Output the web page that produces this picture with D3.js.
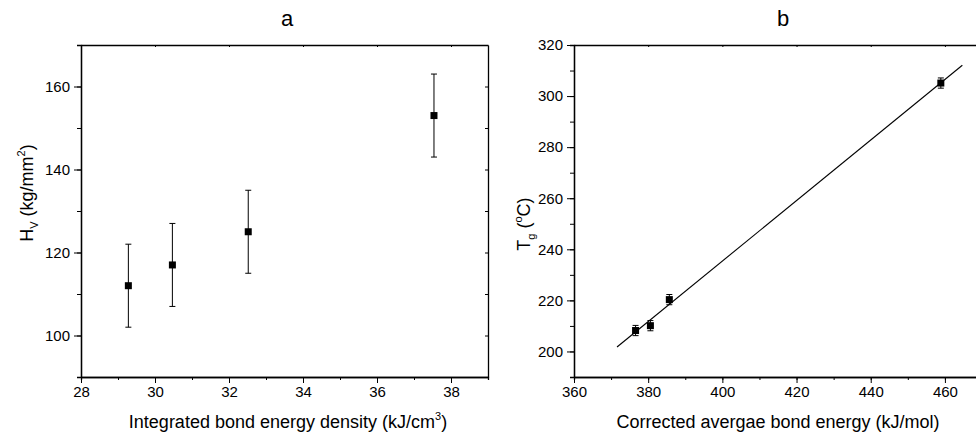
<!DOCTYPE html>
<html>
<head>
<meta charset="utf-8">
<script src="https://cdn.jsdelivr.net/npm/d3@7"></script>
<style>
  body { margin: 0; background: #fff; }
  svg text { font-family: "Liberation Sans", Arial, sans-serif; fill: #000; }
</style>
</head>
<body>
<div id="chart"></div>
<script>
// panel a data
var densityX = [29.28, 30.47, 32.52, 37.54]
var hardness = [112, 117, 125, 153]
var hardnessErr = [10, 10, 10, 10]
var aTicksX = [28, 30, 32, 34, 36, 38]
var aTicksY = [100, 120, 140, 160]

// panel b data
var bondEnergy = [376.6, 380.6, 385.7, 458.9]
var tg = [208.2, 210.1, 220.3, 305.1]
var tgErr = [2, 2, 2, 2]
var fitRange = [371.6, 464.7]
var bTicksX = [360, 380, 400, 420, 440, 460]
var bTicksY = [200, 220, 240, 260, 280, 300, 320]

var width = 976, height = 442

var svg = d3.select("#chart")
  .append("svg")
  .attr("width", width)
  .attr("height", height)

function panel(opt) {
  var xScale = d3.scaleLinear().domain(opt.xDomain).range(opt.xRange)
  var yScale = d3.scaleLinear().domain(opt.yDomain).range(opt.yRange)
  var g = svg.append("g")

  // minor ticks first, then major with labels
  var xMinor = d3.axisBottom(xScale).tickValues(d3.range(opt.xDomain[0], opt.xDomain[1] + 0.001, opt.xMinorStep))
    .tickSize(3).tickFormat('')
  var yMinor = d3.axisLeft(yScale).tickValues(d3.range(opt.yDomain[0] + 10, opt.yDomain[1], opt.yMinorStep))
    .tickSize(4).tickFormat('')
  var xAxis = d3.axisBottom(xScale).tickValues(opt.xTicks).tickSize(6).tickPadding(3).tickSizeOuter(0)
  var yAxis = d3.axisLeft(yScale).tickValues(opt.yTicks).tickSize(7).tickPadding(4).tickSizeOuter(0)

  var y0 = opt.yRange[0], x0 = opt.xRange[0]

  g.append("g").attr("transform", `translate(0,${y0})`).call(xMinor)
  g.append("g").attr("transform", `translate(${x0},0)`).call(yMinor)
  g.append("g").attr("class", "x-axis").attr("transform", `translate(0,${y0})`).call(xAxis)
    .selectAll("text").attr("font-size", "15px")
  g.append("g").attr("class", "y-axis").attr("transform", `translate(${x0},0)`).call(yAxis)
    .selectAll("text").attr("font-size", "15px")

  // mirrored top / right frame with small inward ticks
  var xTop = d3.axisBottom(xScale).tickValues(d3.range(opt.xDomain[0], opt.xDomain[1] + 0.001, opt.xMinorStep * 2))
    .tickSize(2).tickFormat('').tickSizeOuter(0)
  g.append("g").attr("transform", `translate(0,${opt.yRange[1]})`).call(xTop)
  if (opt.rightFrame) {
    var yRight = d3.axisLeft(yScale).tickValues(d3.range(opt.yDomain[0], opt.yDomain[1], opt.yMinorStep))
      .tickSize(3).tickFormat('').tickSizeOuter(0)
    g.append("g").attr("transform", `translate(${opt.xRange[1]},0)`).call(yRight)
  }
  g.selectAll(".domain, line").attr("stroke", "#000")
  g.selectAll(".domain").attr("stroke-width", 1.3)

  return { g: g, x: xScale, y: yScale }
}

function errorMarks(p, xs, ys, errs) {
  var pts = xs.map((x, i) => ({ x: x, y: ys[i], e: errs[i] }))
  var capW = 3
  var eg = p.g.append("g").attr("stroke", "#000").attr("stroke-width", 1)
  eg.selectAll("line.bar").data(pts).enter().append("line")
    .attr("x1", d => p.x(d.x)).attr("x2", d => p.x(d.x))
    .attr("y1", d => p.y(d.y - d.e)).attr("y2", d => p.y(d.y + d.e))
  eg.selectAll("line.top").data(pts).enter().append("line")
    .attr("x1", d => p.x(d.x) - capW).attr("x2", d => p.x(d.x) + capW)
    .attr("y1", d => p.y(d.y + d.e)).attr("y2", d => p.y(d.y + d.e))
  eg.selectAll("line.bot").data(pts).enter().append("line")
    .attr("x1", d => p.x(d.x) - capW).attr("x2", d => p.x(d.x) + capW)
    .attr("y1", d => p.y(d.y - d.e)).attr("y2", d => p.y(d.y - d.e))
  p.g.selectAll("rect.pt").data(pts).enter().append("rect")
    .attr("class", "pt")
    .attr("x", d => p.x(d.x) - 3.5)
    .attr("y", d => p.y(d.y) - 3.5)
    .attr("width", 7).attr("height", 7)
    .attr("fill", "#000")
}

// Panel a
var pa = panel({
  xDomain: [28, 39], xRange: [81, 488], xTicks: aTicksX, xMinorStep: 1,
  yDomain: [90, 170], yRange: [377, 45], yTicks: aTicksY, yMinorStep: 10,
  rightFrame: true
})
errorMarks(pa, densityX, hardness, hardnessErr)

// Panel b
var pb = panel({
  xDomain: [360, 470], xRange: [574, 982], xTicks: bTicksX, xMinorStep: 10,
  yDomain: [190, 320], yRange: [377, 45], yTicks: bTicksY, yMinorStep: 10,
  rightFrame: true
})

// least squares fit line through panel b points
var mx = d3.mean(bondEnergy), my = d3.mean(tg)
var sxy = d3.sum(bondEnergy, (x, i) => (x - mx) * (tg[i] - my))
var sxx = d3.sum(bondEnergy, x => (x - mx) * (x - mx))
var slope = sxy / sxx, intercept = my - slope * mx
pb.g.append("path")
  .datum(fitRange)
  .attr("d", d3.line().x(d => pb.x(d)).y(d => pb.y(intercept + slope * d)))
  .attr("stroke", "#000").attr("stroke-width", 1.1).attr("fill", "none")
errorMarks(pb, bondEnergy, tg, tgErr)

// titles
svg.append("text").attr("x", 287).attr("y", 26).attr("text-anchor", "middle")
  .attr("font-size", "22px").text("a")
svg.append("text").attr("x", 783).attr("y", 26).attr("text-anchor", "middle")
  .attr("font-size", "22px").text("b")

// axis labels
var xla = svg.append("text").attr("x", 288).attr("y", 428).attr("text-anchor", "middle")
  .attr("font-size", "18px")
xla.append("tspan").text("Integrated bond energy density (kJ/cm")
xla.append("tspan").attr("font-size", "11px").attr("dy", -8).text("3")
xla.append("tspan").attr("dy", 8).text(")")

svg.append("text").attr("x", 778).attr("y", 428).attr("text-anchor", "middle")
  .attr("font-size", "18px").text("Corrected avergae bond energy (kJ/mol)")

var yla = svg.append("text").attr("transform", "translate(33,193) rotate(-90)")
  .attr("text-anchor", "middle").attr("font-size", "18px")
yla.append("tspan").text("H")
yla.append("tspan").attr("font-size", "11px").attr("dy", 5).text("V")
yla.append("tspan").attr("dy", -5).text(" (kg/mm")
yla.append("tspan").attr("font-size", "11px").attr("dy", -8).text("2")
yla.append("tspan").attr("dy", 8).text(")")

var ylb = svg.append("text").attr("transform", "translate(530,224) rotate(-90)")
  .attr("text-anchor", "middle").attr("font-size", "18px")
ylb.append("tspan").text("T")
ylb.append("tspan").attr("font-size", "11px").attr("dy", 5).text("g")
ylb.append("tspan").attr("dy", -5).text(" (")
ylb.append("tspan").attr("font-size", "11px").attr("dy", -8).text("o")
ylb.append("tspan").attr("dy", 8).text("C)")
</script>
</body>
</html>
